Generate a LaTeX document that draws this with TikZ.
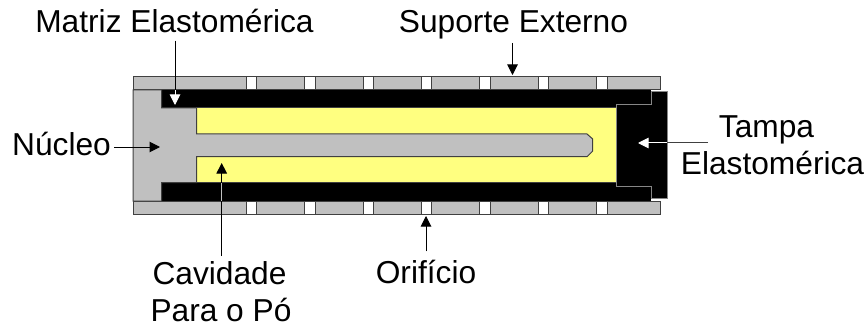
\documentclass[tikz,border=0pt]{standalone}
\usepackage{fontspec}
\setmainfont{Liberation Sans}
\usetikzlibrary{arrows.meta}
\definecolor{pgray}{RGB}{192,192,192}
\definecolor{pyellow}{RGB}{255,255,128}
\definecolor{edge}{RGB}{64,64,64}
\tikzset{
  x=1pt,y=-1pt,
  part/.style={draw=edge,line width=1pt,line join=miter},
  lab/.style={inner sep=0pt,font=\fontsize{31.7}{37}\selectfont,align=center,text=black},
  ptr/.style={line width=1pt,-{Triangle[length=10.5pt,width=10.5pt]}},
  plain/.style={line width=1pt}
}
\begin{document}
\begin{tikzpicture}
\useasboundingbox (0,0) rectangle (867,326);
% outer sleeve
\filldraw[part,fill=pgray] (133,77) rectangle (660,90);
\filldraw[part,fill=pgray] (133,201) rectangle (660,214);
\foreach \c in {251.5,309.9,368.3,426.7,485.1,543.5,601.9}{
  \filldraw[part,fill=white] (\c-5.2,77) rectangle (\c+5.2,90);
  \filldraw[part,fill=white] (\c-5.2,201) rectangle (\c+5.2,214);
}
% elastomeric matrix
\fill[black] (161.5,90) rectangle (651,108);
\fill[black] (161.5,182.7) rectangle (651,201);
% yellow powder cavity
\filldraw[part,fill=pyellow] (196.7,108) rectangle (616,182.7);
% core
\filldraw[part,fill=pgray] (133,90) -- (161.5,90) -- (161.5,108) -- (196.7,108) -- (196.7,134)
  -- (587,134) -- (592.7,139) -- (592.7,151) -- (587,156.7) -- (196.7,156.7) -- (196.7,182.7)
  -- (161.5,182.7) -- (161.5,201) -- (133,201) -- cycle;
% cap
\filldraw[draw=pgray!70!black,line width=1pt,fill=black] (616,105) -- (651,105) -- (651,92) -- (667,92)
  -- (667,198) -- (651,198) -- (651,186) -- (616,186) -- cycle;
% labels
\node[lab,anchor=base] (matriz) at (174.5,33) {Matriz Elastomérica};
\node[lab,anchor=base] (suporte) at (513.5,33) {Suporte Externo};
\node[lab,anchor=base] (nucleo) at (61.5,155) {Núcleo};
\node[lab] (tampa) at (772.5,145) {Tampa\hspace*{12pt}\\Elastomérica};
\node[lab] (cavidade) at (221,291.5) {Cavidade\hspace*{3pt}\\Para o Pó};
\node[lab,anchor=base] (orificio) at (426,283) {Orifício};
% connector targets
\coordinate (tm) at (175,105);
\coordinate (bm) at (175,90);
\coordinate (ts) at (512.5,75);
\coordinate (tn) at (160,147);
\coordinate (sn) at (114,147);
\coordinate (tt) at (638,143);
\coordinate (bt) at (708,143);
\coordinate (ct) at (667,143);
\coordinate (tc) at (221.7,163);
\coordinate (mc) at (221.7,201);
\coordinate (to) at (426,216);
% connectors
\draw[plain,shorten <=7pt] (matriz.south -| bm) -- (bm);
\draw[ptr,white] (bm) -- (tm);
\draw[ptr,shorten <=3pt] (suporte.south -| ts) -- (ts);
\draw[ptr] (sn) -- (tn);
\draw[plain,edge] (bt) -- (ct);
\draw[ptr,white] (ct) -- (tt);
\draw[plain,shorten <=5pt] (cavidade.north -| tc) -- (mc);
\draw[ptr] (mc) -- (tc);
\draw[plain,color=pgray] (mc) -- (221.7,182.7);
\draw[ptr,shorten <=8pt] (orificio.north -| to) -- (to);
\end{tikzpicture}
\end{document}
